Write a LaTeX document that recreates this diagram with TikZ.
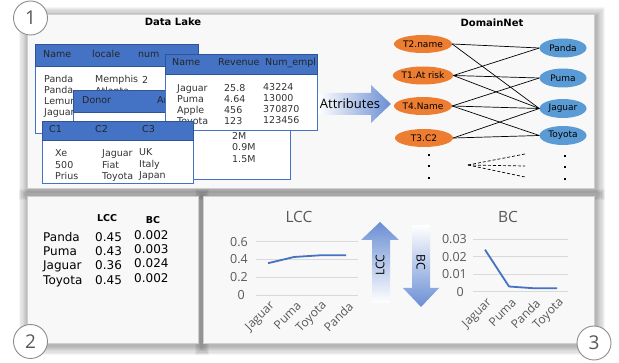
\documentclass[tikz,border=0pt]{standalone}
\usepackage{fontspec}
\setmainfont{DejaVu Sans}
\newfontfamily\osans{Open Sans}
\usetikzlibrary{shapes.geometric}
\definecolor{hdrblue}{HTML}{4472C4}
\definecolor{hdrline}{HTML}{2F5597}
\definecolor{orng}{HTML}{ED7D31}
\definecolor{lblue}{HTML}{5B9BD5}
\definecolor{gridc}{HTML}{D9D9D9}
\definecolor{axtxt}{HTML}{595959}
\definecolor{panelfill}{HTML}{F8F8F8}
\definecolor{panelline}{HTML}{CFCFCF}
\definecolor{arrowblue}{HTML}{6A8ED4}
\definecolor{circline}{HTML}{8C8C8C}
\newcommand\pshadow[4]{\foreach \k in {1,...,8}{\fill[black,opacity=0.04] ({#1-1.2*\k+1.5},{#2-1.2*\k+2.5}) rectangle ({#3+1.2*\k+1.5},{#4+1.2*\k+2.5});}}
\tikzset{
  tt/.style={font=\fontsize{9.5}{10}\selectfont, text=black!80, anchor=west, inner sep=0, text height=0.72em, text depth=0.2em},
  ht/.style={tt, text=black!85},
  tbody/.style={fill=white, draw=hdrblue, line width=0.8pt},
  thead/.style={fill=hdrblue, draw=hdrline, line width=0.6pt},
  panel/.style={fill=panelfill, draw=panelline, line width=0.6pt},
  oell/.style={ellipse, fill=orng, minimum width=58pt, minimum height=18pt, inner sep=0, font=\fontsize{9}{10}\selectfont},
  bell/.style={ellipse, fill=lblue, minimum width=47pt, minimum height=19pt, inner sep=0, font=\fontsize{9}{10}\selectfont},
  edge/.style={black, line width=0.7pt},
  dot/.style={fill=black, minimum size=2pt, inner sep=0, rectangle},
  circ/.style={circle, fill=white, draw=circline, line width=0.9pt, minimum size=34pt, inner sep=0, font=\osans\fontsize{19}{20}\selectfont, text=axtxt},
  pt2/.style={font=\fontsize{12}{13}\selectfont, anchor=west, inner sep=0, text height=0.72em, text depth=0.2em},
  pth/.style={font=\bfseries\fontsize{9.5}{10}\selectfont},
  ylab/.style={font=\osans\fontsize{12.5}{13}\selectfont, text=axtxt, anchor=east, inner sep=0},
  xlab/.style={font=\osans\fontsize{12}{13}\selectfont, text=axtxt, anchor=east, inner sep=0, rotate=45},
  ctitle/.style={font=\osans\fontsize{15.5}{16}\selectfont, text=axtxt, inner sep=0},
  grid/.style={gridc, line width=0.7pt},
  cline/.style={hdrblue, line width=1.8pt, line join=round},
}
\begin{document}
\begin{tikzpicture}[x=1pt,y=-1pt]
\useasboundingbox (0,0) rectangle (619,363);
\fill[white] (0,0) rectangle (619,363);
% shadows
\pshadow{27}{14}{594}{188}
\pshadow{27}{196}{198}{343}
\pshadow{203}{196}{594}{343}
% panels
\draw[panel] (27,14) rectangle (594,188);
\draw[panel] (27,196) rectangle (198,343);
\draw[panel] (203,196) rectangle (594,343);

% ---------- Panel 1: data lake ----------
\node[font=\bfseries\fontsize{10}{11}\selectfont] (dl) at (173,22) {Data Lake};
% table A
\draw[tbody] (35,44) rectangle (198,133);
\draw[thead] (35,44) rectangle (198,66);
\node[ht] (a-h1) at (43,55) {Name};
\node[ht] (a-h2) at (92,55) {locale};
\node[ht] (a-h3) at (138,55) {num};
\node[tt] (a-11) at (44,80) {Panda};
\node[tt] (a-12) at (95,80) {Memphis};
\node[tt] (a-13) at (142,81) {2};
\node[tt] (a-21) at (44,91) {Panda};
\node[tt] (a-22) at (95,92) {Atlanta};
\node[tt] (a-31) at (44,102) {Lemur};
\node[tt] (a-41) at (44,113) {Jaguar};
% donor table
\draw[tbody] (73,90) rectangle (290,179);
\draw[thead] (73,90) rectangle (290,112);
\node[ht] (d-h1) at (82,101) {Donor};
\begin{scope}
\clip (73,90) rectangle (165,112);
\node[ht] (d-h2) at (157,101) {Amount};
\end{scope}
\node[tt] (d-1) at (232,137) {2M};
\node[tt] (d-2) at (232,148) {0.9M};
\node[tt] (d-3) at (232,160) {1.5M};
% table B
\draw[tbody] (165,54) rectangle (317,130);
\draw[thead] (165,54) rectangle (317,74);
\node[ht] (b-h1) at (172,63) {Name};
\node[ht] (b-h2) at (218,63) {Revenue};
\begin{scope}
\clip (165,54) rectangle (316.5,74);
\node[ht] (b-h3) at (265,63) {Num\_empl};
\end{scope}
\node[tt] (b-11) at (177,89) {Jaguar};
\node[tt] (b-12) at (224,89) {25.8};
\node[tt] (b-13) at (263,88) {43224};
\node[tt] (b-21) at (177,100) {Puma};
\node[tt] (b-22) at (224,100) {4.64};
\node[tt] (b-23) at (263,99) {13000};
\node[tt] (b-31) at (177,111) {Apple};
\node[tt] (b-32) at (224,111) {456};
\node[tt] (b-33) at (263,110) {370870};
\node[tt] (b-41) at (177,122) {Toyota};
\node[tt] (b-42) at (224,122) {123};
\node[tt] (b-43) at (263,121) {123456};
% table C
\draw[tbody] (42,121) rectangle (193,183);
\draw[thead] (42,121) rectangle (193,140);
\node[ht] (c-h1) at (49,130) {C1};
\node[ht] (c-h2) at (95,130) {C2};
\node[ht] (c-h3) at (142,130) {C3};
\node[tt] (c-11) at (55,154) {Xe};
\node[tt] (c-12) at (102,154) {Jaguar};
\node[tt] (c-13) at (139,153) {UK};
\node[tt] (c-21) at (55,166) {500};
\node[tt] (c-22) at (102,166) {Fiat};
\node[tt] (c-23) at (139,165) {Italy};
\node[tt] (c-31) at (55,177) {Prius};
\node[tt] (c-32) at (102,177) {Toyota};
\node[tt] (c-33) at (139,176) {Japan};

% attributes arrow
\path[left color=white, right color=arrowblue] (318,93) -- (371,93) -- (371,85) -- (391,104) -- (371,123) -- (371,115) -- (318,115) -- cycle;
\node[font=\osans\fontsize{13}{14}\selectfont, inner sep=0] (attr) at (350,104) {Attributes};

% ---------- DomainNet ----------
\node[font=\bfseries\fontsize{10}{11}\selectfont] (dn) at (492,23) {DomainNet};
\node[oell] (t2) at (423,44) {T2.name};
\node[oell] (t1) at (423,75.5) {T1.At risk};
\node[oell] (t4) at (423,106) {T4.Name};
\node[oell] (t3) at (424,138) {T3.C2};
\node[bell] (panda) at (563,48) {Panda};
\node[bell] (puma) at (563,78) {Puma};
\node[bell] (jaguar) at (563,108.5) {Jaguar};
\node[bell] (toyota) at (563,135.5) {Toyota};
\draw[edge] (t2.east) -- (panda.west);
\draw[edge] (t2.east) -- (jaguar.west);
\draw[edge] (t1.east) -- (panda.west);
\draw[edge] (t1.east) -- (puma.west);
\draw[edge] (t1.east) -- (jaguar.west);
\draw[edge] (t4.east) -- (puma.west);
\draw[edge] (t4.east) -- (jaguar.west);
\draw[edge] (t4.east) -- (toyota.west);
\draw[edge] (t3.east) -- (jaguar.west);
\draw[edge] (t3.east) -- (toyota.west);
\node[dot] (ld1) at (429,155) {};
\node[dot] (ld2) at (429,166.5) {};
\node[dot] (ld3) at (429,178) {};
\node[dot] (rd1) at (565,156) {};
\node[dot] (rd2) at (565,167.5) {};
\node[dot] (rd3) at (565,179) {};
\coordinate (fan) at (468,165);
\coordinate (fe1) at (525,154);
\coordinate (fe2) at (525,166);
\coordinate (fe3) at (525,177);
\draw[edge, dashed, dash pattern=on 3pt off 2pt] (fan) -- (fe1);
\draw[edge, dashed, dash pattern=on 3pt off 2pt] (fan) -- (fe2);
\draw[edge, dashed, dash pattern=on 3pt off 2pt] (fan) -- (fe3);

% ---------- Panel 2 ----------
\node[pth] (h-lcc) at (107,218) {LCC};
\node[pth] (h-bc) at (153,220) {BC};
\node[pt2] (r1a) at (43,239) {Panda};
\node[pt2] (r1b) at (95,239) {0.45};
\node[pt2] (r1c) at (134,237) {0.002};
\node[pt2] (r2a) at (43,253) {Puma};
\node[pt2] (r2b) at (95,253) {0.43};
\node[pt2] (r2c) at (134,251) {0.003};
\node[pt2] (r3a) at (43,267) {Jaguar};
\node[pt2] (r3b) at (95,267) {0.36};
\node[pt2] (r3c) at (134,265) {0.024};
\node[pt2] (r4a) at (43,282) {Toyota};
\node[pt2] (r4b) at (95,282) {0.45};
\node[pt2] (r4c) at (134,280) {0.002};

% ---------- Panel 3: LCC chart ----------
\node[ctitle] (lcct) at (299,217) {LCC};
\draw[grid] (256,241.7) -- (358,241.7);
\draw[grid] (256,259.3) -- (358,259.3);
\draw[grid] (256,277.3) -- (358,277.3);
\draw[grid] (256,295) -- (358,295);
\node[ylab] (ly1) at (248,242) {0.6};
\node[ylab] (ly2) at (248,259.5) {0.4};
\node[ylab] (ly3) at (248,277.5) {0.2};
\node[ylab] (ly4) at (245,295) {0};
\draw[cline] (268,263.2) -- (294,257) -- (320,255.3) -- (346,255.3);
\node[xlab] (lx1) at (273,304) {Jaguar};
\node[xlab] (lx2) at (299,304) {Puma};
\node[xlab] (lx3) at (325,304) {Toyota};
\node[xlab] (lx4) at (351,304) {Panda};

% vertical arrows
\path[top color=arrowblue, bottom color=white] (380,222) -- (399,240) -- (390,240) -- (390,303) -- (372,303) -- (372,240) -- (361,240) -- cycle;
\node[font=\osans\fontsize{12}{13}\selectfont, rotate=90, inner sep=0] (alcc) at (380,265) {LCC};
\path[top color=white, bottom color=arrowblue] (412,225) -- (430,225) -- (430,288) -- (439,288) -- (421,307) -- (403,288) -- (412,288) -- cycle;
\node[font=\osans\fontsize{12}{13}\selectfont, rotate=-90, inner sep=0] (abc) at (421,262) {BC};

% BC chart
\node[ctitle] (bct) at (508,217) {BC};
\draw[grid] (473,239.3) -- (568,239.3);
\draw[grid] (473,256.7) -- (568,256.7);
\draw[grid] (473,274.3) -- (568,274.3);
\draw[grid] (473,291.7) -- (568,291.7);
\node[ylab] (by1) at (467,239.5) {0.03};
\node[ylab] (by2) at (467,257) {0.02};
\node[ylab] (by3) at (467,274.5) {0.01};
\node[ylab] (by4) at (464,292) {0};
\draw[cline] (485,249.7) -- (509,286.5) -- (533,288.2) -- (557,288.2);
\node[xlab] (bx1) at (490,301) {Jaguar};
\node[xlab] (bx2) at (514,301) {Puma};
\node[xlab] (bx3) at (538,301) {Panda};
\node[xlab] (bx4) at (562,301) {Toyota};

% circles
\node[circ] (n1) at (30.5,18) {1};
\node[circ] (n2) at (30.5,341.5) {2};
\node[circ] (n3) at (594,343) {3};
\end{tikzpicture}
\end{document}
